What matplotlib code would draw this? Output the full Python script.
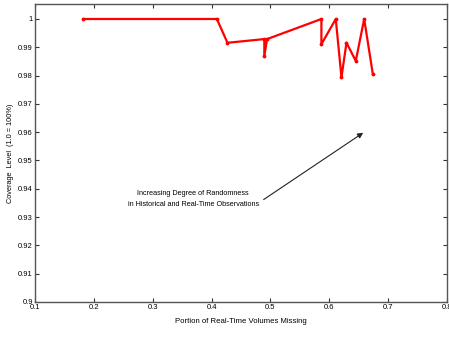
import matplotlib
matplotlib.use("Agg")
import matplotlib.pyplot as plt

portion_missing = [0.182, 0.409, 0.427, 0.4896, 0.4896, 0.4943, 0.5866, 0.5866,
                   0.611, 0.6207, 0.6292, 0.645, 0.6593, 0.674]
coverage = [1.0, 1.0, 0.9916, 0.9929, 0.9869, 0.9929, 1.0, 0.9911,
            1.0, 0.9794, 0.9916, 0.9852, 1.0, 0.9805]
xticks = [0.1, 0.2, 0.3, 0.4, 0.5, 0.6, 0.7, 0.8]
xtick_labels = ["0.1", "0.2", "0.3", "0.4", "0.5", "0.6", "0.7", "0.8"]
yticks = [0.9, 0.91, 0.92, 0.93, 0.94, 0.95, 0.96, 0.97, 0.98, 0.99, 1.0]
ytick_labels = ["0.9", "0.91", "0.92", "0.93", "0.94", "0.95", "0.96", "0.97", "0.98", "0.99", "1"]

plt.rcParams['font.family'] = ['Liberation Sans', 'DejaVu Sans']

fig = plt.figure(figsize=(4.49, 3.41), dpi=100)
ax = fig.add_axes([35/449, 39/341, 412/449, 298/341])

ax.plot(portion_missing, coverage, color='#ff0000', linewidth=1.6,
        marker='.', markersize=3.5)

ax.set_xlim(0.1, 0.8)
ax.set_ylim(0.9, 1.0053)
ax.set_xticks(xticks)
ax.set_xticklabels(xtick_labels, fontsize=5.5)
ax.set_yticks(yticks)
ax.set_yticklabels(ytick_labels, fontsize=5.5)
ax.tick_params(direction='in', length=3, width=0.8, top=True, right=True,
               pad=1.5, color='#333333')
for s in ax.spines.values():
    s.set_color('#555555')
    s.set_linewidth(1.0)

ax.set_xlabel("Portion of Real-Time Volumes Missing", fontsize=5.6, labelpad=5)
ax.set_ylabel("Coverage  Level  (1.0 = 100%)", fontsize=5.3, labelpad=3)

ax.text(0.3689, 0.9364,
        "Increasing Degree of Randomness\nin Historical and Real-Time Observations",
        ha='center', va='center', fontsize=5.2, linespacing=1.9)
ax.annotate("", xy=(0.6576, 0.9598), xytext=(0.4885, 0.9362),
            arrowprops=dict(arrowstyle='-|>', color='#222222', lw=0.8,
                            mutation_scale=8, shrinkA=0, shrinkB=0))

fig.savefig("out.png", dpi=100)
